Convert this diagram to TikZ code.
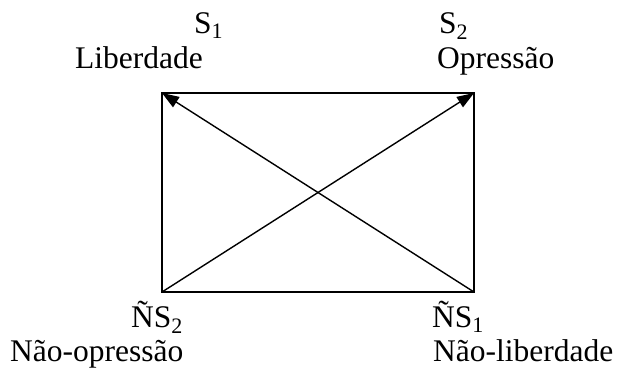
\documentclass[tikz,border=0pt]{standalone}
\usepackage{fontspec}
\setmainfont{Liberation Serif}
\usetikzlibrary{arrows.meta}
\begin{document}
\begin{tikzpicture}[x=1pt,y=-1pt,
  lbl/.style={anchor=base west,inner sep=0pt,font=\fontsize{31.5}{36}\selectfont},
  edge/.style={line width=1.6pt},
  diag/.style={line width=1.4pt,-{Triangle[length=17pt,width=12pt]}}]
\useasboundingbox (0,0) rectangle (617,368);
\coordinate (tl) at (162,93);
\coordinate (tr) at (474,93);
\coordinate (br) at (474,292);
\coordinate (bl) at (162,292);
\draw[edge] (tl) -- (tr) -- (br) -- (bl) -- cycle;
\draw[diag] (bl) -- (tr);
\draw[diag] (br) -- (tl);
\node[lbl] (s1) at (194,33) {S\textsubscript{1}};
\node[lbl] (lib) at (75,68) {Liberdade};
\node[lbl] (s2) at (439,33) {S\textsubscript{2}};
\node[lbl] (opr) at (437,68) {Opressão};
\node[lbl] (ns2) at (131,327) {ÑS\textsubscript{2}};
\node[lbl] (nopr) at (10,361) {Não-opressão};
\node[lbl] (ns1) at (432,327) {ÑS\textsubscript{1}};
\node[lbl] (nlib) at (433,361) {Não-liberdade};
\end{tikzpicture}
\end{document}
